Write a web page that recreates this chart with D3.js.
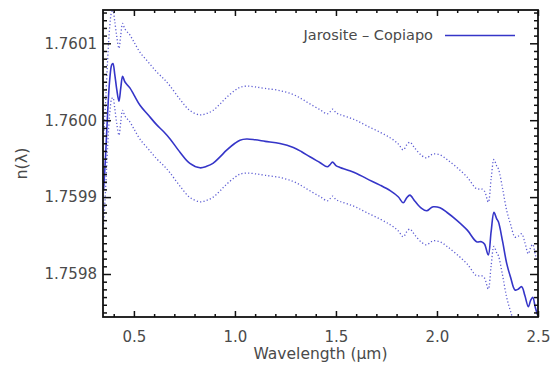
<!DOCTYPE html>
<html><head><meta charset="utf-8">
<script src="https://cdn.jsdelivr.net/npm/d3@7"></script>
<style>body{margin:0;background:#fff}svg{display:block}</style>
</head><body><svg id="c" width="552" height="366"></svg>
<script>
const wavelength = [0.350,0.360,0.370,0.380,0.390,0.396,0.405,0.415,0.426,0.435,0.444,0.455,0.470,0.480,0.500,0.530,0.570,0.612,0.650,0.678,0.728,0.777,0.827,0.860,0.891,0.925,0.959,1.000,1.025,1.058,1.100,1.150,1.223,1.289,1.330,1.371,1.420,1.457,1.470,1.483,1.500,1.520,1.560,1.602,1.652,1.718,1.770,1.808,1.833,1.850,1.866,1.890,1.924,1.949,1.970,1.982,2.015,2.050,2.097,2.150,2.196,2.220,2.235,2.254,2.268,2.282,2.295,2.304,2.325,2.345,2.365,2.386,2.400,2.419,2.435,2.452,2.464,2.474,2.487,2.498];
const nMain = [1.7599090,1.7599550,1.7600100,1.7600520,1.7600720,1.7600736,1.7600600,1.7600400,1.7600247,1.7600420,1.7600571,1.7600500,1.7600450,1.7600420,1.7600330,1.7600195,1.7600071,1.7599942,1.7599844,1.7599760,1.7599584,1.7599438,1.7599381,1.7599400,1.7599438,1.7599520,1.7599610,1.7599700,1.7599740,1.7599755,1.7599745,1.7599725,1.7599697,1.7599645,1.7599590,1.7599524,1.7599450,1.7599394,1.7599420,1.7599455,1.7599410,1.7599386,1.7599350,1.7599308,1.7599240,1.7599156,1.7599080,1.7599004,1.7598926,1.7598990,1.7599026,1.7598950,1.7598853,1.7598822,1.7598860,1.7598874,1.7598861,1.7598800,1.7598701,1.7598570,1.7598420,1.7598420,1.7598390,1.7598247,1.7598550,1.7598801,1.7598720,1.7598679,1.7598420,1.7598138,1.7597950,1.7597792,1.7597800,1.7597835,1.7597720,1.7597575,1.7597660,1.7597697,1.7597560,1.7597468];
const nUpper = [1.7599778,1.7600238,1.7600788,1.7601208,1.7601408,1.7601424,1.7601288,1.7601088,1.7600935,1.7601108,1.7601259,1.7601188,1.7601138,1.7601108,1.7601018,1.7600883,1.7600759,1.7600630,1.7600532,1.7600448,1.7600272,1.7600126,1.7600069,1.7600088,1.7600126,1.7600208,1.7600298,1.7600388,1.7600428,1.7600443,1.7600433,1.7600413,1.7600385,1.7600333,1.7600278,1.7600212,1.7600138,1.7600082,1.7600108,1.7600143,1.7600098,1.7600074,1.7600038,1.7599996,1.7599928,1.7599844,1.7599768,1.7599692,1.7599614,1.7599678,1.7599714,1.7599638,1.7599541,1.7599510,1.7599548,1.7599562,1.7599549,1.7599488,1.7599389,1.7599258,1.7599108,1.7599108,1.7599078,1.7598935,1.7599238,1.7599489,1.7599408,1.7599367,1.7599108,1.7598826,1.7598638,1.7598480,1.7598488,1.7598523,1.7598408,1.7598263,1.7598348,1.7598385,1.7598248,1.7598156];
const nLower = [1.7598648,1.7599108,1.7599658,1.7600078,1.7600278,1.7600294,1.7600158,1.7599958,1.7599805,1.7599978,1.7600129,1.7600058,1.7600008,1.7599978,1.7599888,1.7599753,1.7599629,1.7599500,1.7599402,1.7599318,1.7599142,1.7598996,1.7598939,1.7598958,1.7598996,1.7599078,1.7599168,1.7599258,1.7599298,1.7599313,1.7599303,1.7599283,1.7599255,1.7599203,1.7599148,1.7599082,1.7599008,1.7598952,1.7598978,1.7599013,1.7598968,1.7598944,1.7598908,1.7598866,1.7598798,1.7598714,1.7598638,1.7598562,1.7598484,1.7598548,1.7598584,1.7598508,1.7598411,1.7598380,1.7598418,1.7598432,1.7598419,1.7598358,1.7598259,1.7598128,1.7597978,1.7597978,1.7597948,1.7597805,1.7598108,1.7598359,1.7598278,1.7598237,1.7597978,1.7597696,1.7597508,1.7597350,1.7597358,1.7597393,1.7597278,1.7597133,1.7597218,1.7597255,1.7597118,1.7597026];
const xTicks = [0.5,1.0,1.5,2.0,2.5];
const xTickLabels = ["0.5","1.0","1.5","2.0","2.5"];
const yTicks = [1.7598,1.7599,1.7600,1.7601];
const yTickLabels = ["1.7598","1.7599","1.7600","1.7601"];
const legendLabel = "Jarosite \u2013 Copiapo";
const xTitle = "Wavelength (\u03bcm)";
const yTitle = "n(\u03bb)";

const L=103,R=538,T=10,B=317;
const svg=d3.select("#c");
const x=d3.scaleLinear().domain([0.347,2.5]).range([L,R]);
const y=d3.scaleLinear().domain([1.7598,1.7601]).range([274,43.3]);
const blue="#3535c8", txt="#4a4a4a", font="DejaVu Sans, sans-serif";

svg.append("clipPath").attr("id","clip").append("rect").attr("x",L).attr("y",T).attr("width",R-L).attr("height",B-T);
const g=svg.append("g").attr("clip-path","url(#clip)");
const line=(arr)=>d3.line().x((d,i)=>x(wavelength[i])).y(d=>y(d)).curve(d3.curveCatmullRom.alpha(0.5))(arr);
g.append("path").attr("d",line(nUpper)).attr("fill","none").attr("stroke",blue).attr("stroke-width",1.3).attr("stroke-dasharray","1.2 2.2").attr("opacity",0.8);
g.append("path").attr("d",line(nLower)).attr("fill","none").attr("stroke",blue).attr("stroke-width",1.3).attr("stroke-dasharray","1.2 2.2").attr("opacity",0.8);
g.append("path").attr("d",line(nMain)).attr("fill","none").attr("stroke",blue).attr("stroke-width",1.6);

// axes with inward ticks
const xMinor=d3.range(0.4,2.5001,0.1).filter(v=>!xTicks.some(t=>Math.abs(t-v)<1e-6));
const yLo=y.invert(B), yHi=y.invert(T);
const yMinor=d3.range(Math.ceil(yLo*1e5)/1e5,yHi,0.00001).filter(v=>!yTicks.some(t=>Math.abs(t-v)<1e-7));
svg.append("g").attr("transform",`translate(0,${B})`).call(d3.axisBottom(x).tickValues(xTicks).tickFormat((d,i)=>xTickLabels[i]).tickSize(-6).tickPadding(14));
svg.append("g").attr("transform",`translate(0,${B})`).call(d3.axisBottom(x).tickValues(xMinor).tickSize(-3).tickFormat(""));
svg.append("g").attr("transform",`translate(0,${T})`).call(d3.axisTop(x).tickValues(xTicks).tickSize(-6).tickFormat(""));
svg.append("g").attr("transform",`translate(0,${T})`).call(d3.axisTop(x).tickValues(xMinor).tickSize(-3).tickFormat(""));
svg.append("g").attr("transform",`translate(${L},0)`).call(d3.axisLeft(y).tickValues(yTicks).tickFormat((d,i)=>yTickLabels[i]).tickSize(-8).tickPadding(6));
svg.append("g").attr("transform",`translate(${L},0)`).call(d3.axisLeft(y).tickValues(yMinor).tickSize(-4).tickFormat(""));
svg.append("g").attr("transform",`translate(${R},0)`).call(d3.axisRight(y).tickValues(yTicks).tickSize(-8).tickFormat(""));
svg.append("g").attr("transform",`translate(${R},0)`).call(d3.axisRight(y).tickValues(yMinor).tickSize(-4).tickFormat(""));
svg.selectAll(".domain").remove();
svg.selectAll(".tick line").attr("stroke","#111").attr("stroke-width",1.5);
svg.selectAll(".tick text").attr("font-family",font).attr("font-size",15).attr("fill",txt);
svg.append("rect").attr("x",L).attr("y",T).attr("width",R-L).attr("height",B-T).attr("fill","none").attr("stroke","#111").attr("stroke-width",1.8);

svg.append("text").attr("x",(L+R)/2).attr("y",359).attr("text-anchor","middle").attr("font-family",font).attr("font-size",15.5).attr("fill",txt).text(xTitle);
svg.append("text").attr("transform",`translate(27,${(T+B)/2}) rotate(-90)`).attr("text-anchor","middle").attr("font-family",font).attr("font-size",16).attr("fill",txt).text(yTitle);

// legend
svg.append("text").attr("x",433).attr("y",40).attr("text-anchor","end").attr("font-family",font).attr("font-size",14.5).attr("fill",txt).text(legendLabel);
svg.append("line").attr("x1",445).attr("x2",515).attr("y1",35.5).attr("y2",35.5).attr("stroke",blue).attr("stroke-width",1.6);
</script></body></html>
